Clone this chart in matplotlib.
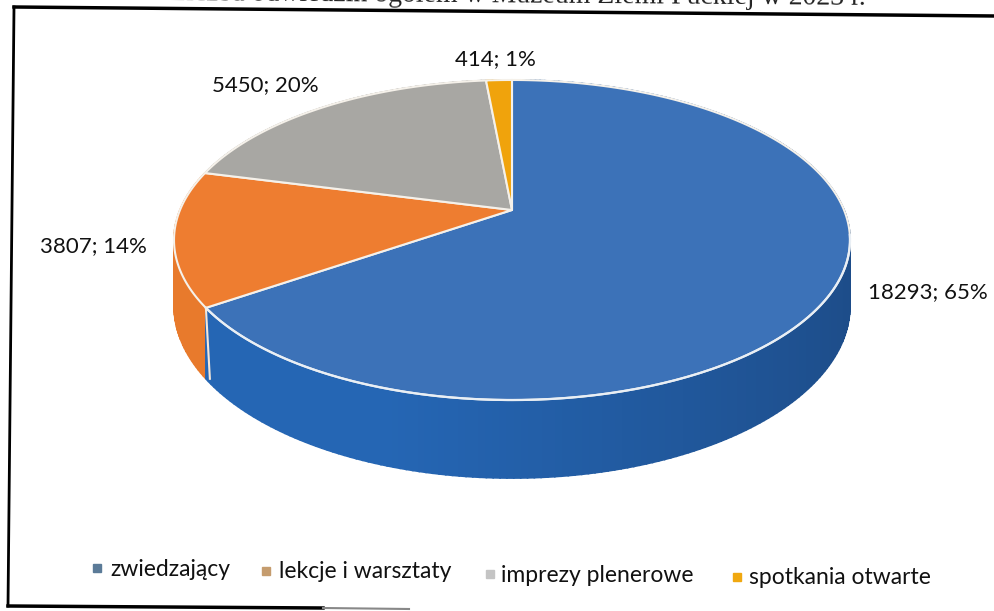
import numpy as np
import matplotlib
matplotlib.use('Agg')
import matplotlib.pyplot as plt
from matplotlib.patches import Polygon

categories = ['zwiedzający', 'lekcje i warsztaty', 'imprezy plenerowe', 'spotkania otwarte']
values = [18293, 3807, 5450, 414]
data_labels = ['18293; 65%', '3807; 14%', '5450; 20%', '414; 1%']
title = 'Liczba odwiedzin ogółem w Muzeum Ziemi Puckiej w 2023 r.'

top_colors = ['#3c72b8', '#ee7d30', '#a8a7a3', '#f0a30c']
side_light = ['#2566b4', '#e87a2c', '#8f8f8f', '#d08c08']
side_dark = ['#1d4c88', '#d9691f', '#7f7f7f', '#b87a06']
legend_colors = ['#5b7b98', '#c59c6e', '#c4c4c4', '#f0a810']

# where things sit on the page, in pixels
label_pos = [(928, 292), (93, 246), (265, 85), (495, 59)]
legend_marker = [(97, 568), (266, 571), (490, 574), (737, 577)]
legend_text = [(110, 569), (279, 572), (501, 575), (749, 578)]

cx, cy = 512, 210
rx, ry = 332, 154.4
persp = 0.1875
depth = 63.4


def project(t):
    # disc seen in perspective, t clockwise from the top
    u, v = np.sin(t), np.cos(t)
    w = 1 + persp * v
    return cx + rx * u / w, cy - ry * v / w, w


fig = plt.figure(figsize=(9.95, 6.11), dpi=100)
ax = fig.add_axes([0, 0, 1, 1])
ax.set_xlim(0, 995)
ax.set_ylim(611, 0)
ax.axis('off')

edges = np.cumsum([0] + values) / sum(values) * 2 * np.pi

# side wall, thin strips so the shading can change around the rim
strips = []
for i in range(len(values)):
    ts = np.linspace(edges[i], edges[i + 1], max(int((edges[i + 1] - edges[i]) * 60), 2))
    for a, b in zip(ts[:-1], ts[1:]):
        strips.append((i, a, b))
strips.sort(key=lambda s: -np.cos((s[1] + s[2]) / 2))
for i, a, b in strips:
    xa, ya, wa = project(a)
    xb, yb, wb = project(b)
    f = np.clip((np.sin((a + b) / 2) + 0.3) / 1.3, 0, 1)
    c0 = np.array(matplotlib.colors.to_rgb(side_light[i]))
    c1 = np.array(matplotlib.colors.to_rgb(side_dark[i]))
    col = c0 + (c1 - c0) * f
    ax.add_patch(Polygon([(xa, ya), (xb, yb), (xb, yb + depth / wb), (xa, ya + depth / wa)],
                         facecolor=col, edgecolor=col, lw=1.2, zorder=2))

# seam on the wall where blue meets orange
xs, ys, ws = project(edges[1])
ax.plot([xs, xs + 4], [ys, ys + depth / ws], color='#f4e6d8', lw=1.5, zorder=3)

# top face
for i in range(len(values)):
    ts = np.linspace(edges[i], edges[i + 1], 200)
    x, y, _ = project(ts)
    pts = np.column_stack([np.r_[cx, x], np.r_[cy, y]])
    ax.add_patch(Polygon(pts, closed=True, facecolor=top_colors[i], edgecolor='#f5f1ea',
                         lw=1.5, joinstyle='round', zorder=4))

# the light rim is only visible along the front
ts = np.linspace(np.pi * 0.55, edges[1], 200)
x, y, _ = project(ts)
ax.plot(x, y, color='#e9eff5', lw=1.6, zorder=5)

for lab, (x, y) in zip(data_labels, label_pos):
    ax.text(x, y, lab, fontsize=16, family='Lato', color='#111111', ha='center', va='center', zorder=6)

for name, col, (mx, my), (tx, ty) in zip(categories, legend_colors, legend_marker, legend_text):
    ax.plot([mx], [my], marker='s', ms=6, color=col, ls='none', zorder=6)
    ax.text(tx, ty, name, fontsize=16.5, family='Lato', color='#111111', ha='left', va='center', zorder=6)

# scanned frame round the chart
ax.plot([14, 995], [7, 16], color='black', lw=2.5, clip_on=False)
ax.plot([14, 8], [7, 606], color='black', lw=2, clip_on=False)
ax.plot([8, 323], [606, 608], color='black', lw=2.5)
ax.plot([323, 409], [608, 609], color='#888888', lw=1.5)

ax.text(866, 5, title, fontsize=20, family='Liberation Serif', color='#222222',
        ha='right', va='baseline', rotation=-0.4, rotation_mode='anchor', zorder=1)

fig.savefig('out.png', dpi=100)
